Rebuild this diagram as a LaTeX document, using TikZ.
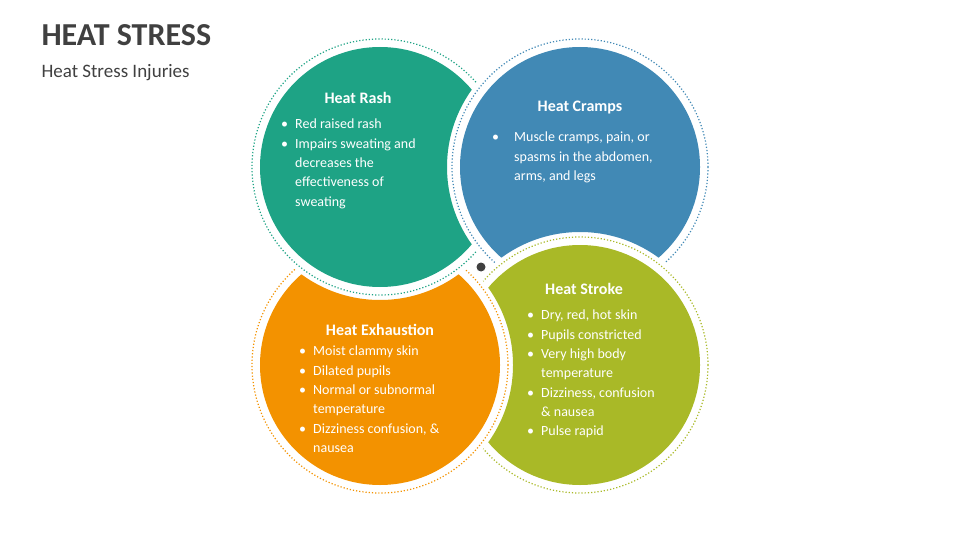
\documentclass[tikz,border=0pt]{standalone}
\usepackage{fontspec}
\setmainfont{Carlito}
\usetikzlibrary{positioning}
\definecolor{rashc}{HTML}{1EA385}
\definecolor{crampc}{HTML}{4189B5}
\definecolor{exhaustc}{HTML}{F39200}
\definecolor{strokec}{HTML}{A9B927}
\definecolor{titlec}{HTML}{404040}
\newcommand{\bul}{\llap{\textbullet\hspace{7pt}}}
\newcommand{\blob}[3]{% center, colour, biter
  \begin{scope}[even odd rule]
    \clip (-10,-10) rectangle (970,550) (#3) circle (133);
    \fill[#2] (#1) circle (120);
    \draw[#2, dotted, line width=1.2pt] (#1) circle (128);
  \end{scope}}
\begin{document}
\begin{tikzpicture}[x=1pt, y=-1pt,
    head/.style={text=white, font=\fontsize{16}{19}\selectfont\bfseries},
    items/.style={text=white, align=left, anchor=north west, inner sep=0pt,
      font=\fontsize{14}{19.3}\selectfont}
]
\useasboundingbox (0,0) rectangle (960,540);
\coordinate (rash) at (380,167);
\coordinate (cramp) at (580,167);
\coordinate (exhaust) at (380,365);
\coordinate (stroke) at (580,365);

% titles
\node[anchor=west, text=titlec, font=\fontsize{32}{36}\selectfont\bfseries] (title) at (38,35) {HEAT STRESS};
\node[anchor=west, text=titlec, font=\fontsize{19}{22}\selectfont] (subtitle) at (38,73) {Heat Stress Injuries};

% circles
\blob{rash}{rashc}{cramp}
\blob{cramp}{crampc}{stroke}
\blob{exhaust}{exhaustc}{rash}
\blob{stroke}{strokec}{exhaust}
\fill[titlec] (481,267) circle (4.5);

% texts
\node[head] (rashhead) at (358,98) {Heat Rash};
\node[items] (rashtext) at (295,119) {\bul Red raised rash\\ \bul Impairs sweating and\\ decreases the\\ effectiveness of\\ sweating};
\node[head] (cramphead) at (580,108) {Heat Cramps};
\node[items] (cramptext) at (514,132) {\llap{\textbullet\hspace{15pt}}Muscle cramps, pain, or\\ spasms in the abdomen,\\ arms, and legs};
\node[head] (exhausthead) at (380,330) {Heat Exhaustion};
\node[items] (exhausttext) at (313,346) {\bul Moist clammy skin\\ \bul Dilated pupils\\ \bul Normal or subnormal\\ temperature\\ \bul Dizziness confusion, \&\\ nausea};
\node[head] (strokehead) at (584,289) {Heat Stroke};
\node[items] (stroketext) at (541,310) {\bul Dry, red, hot skin\\ \bul Pupils constricted\\ \bul Very high body\\ temperature\\ \bul Dizziness, confusion\\ \& nausea\\ \bul Pulse rapid};
\end{tikzpicture}
\end{document}
